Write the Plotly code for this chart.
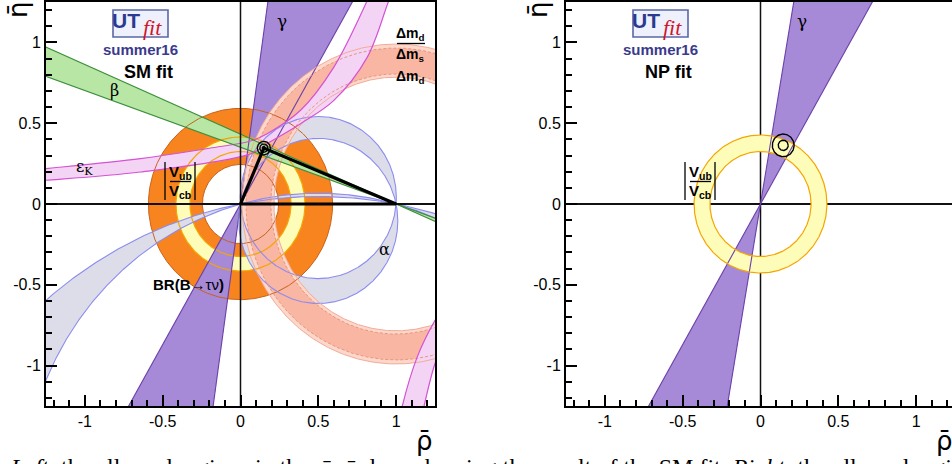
import numpy as np
import plotly.graph_objects as go

W, H = 952, 464

# ----------------- values -----------------
tick_vals = [-1, -0.5, 0, 0.5, 1]
tick_text = ["-1", "-0.5", "0", "0.5", "1"]

apex_sm = [0.150, 0.346]
apex_np = [0.146, 0.363]
sm_contour_r = [0.042, 0.026, 0.009]
np_contour_r = [0.032, 0.070]

gamma_sm_deg = [60.1, 82.0]
gamma_np_deg = [60.1, 80.3]
beta_deg = [19.35, 23.35]
br_taunu_r = [0.245, 0.592]
vub_vcb_r_sm = [0.325, 0.415]
vub_vcb_r_np = [0.325, 0.427]
dmd_r = [0.785, 0.990]          # Delta m_d band, circle around (1,0)
dmd_dms_r = [0.805, 0.965]      # Delta m_d / Delta m_s band
alpha_right_cy = [0.040, -0.105]   # circles through (0,0),(1,0): centre (0.5, cy)
alpha_left_cy = [-2.66, -1.835]

epsk_up_rho = [-1.30, -1.25, -0.643, -0.20, 0.064, 0.171, 0.386, 0.60, 0.815, 0.86]
epsk_up_eta = [0.214, 0.219, 0.281, 0.345, 0.390, 0.435, 0.580, 0.847, 1.26, 1.36]
epsk_lo_rho = [1.00, 0.954, 0.815, 0.60, 0.386, 0.171, 0.064, -0.643, -1.25, -1.30]
epsk_lo_eta = [1.36, 1.26, 0.909, 0.641, 0.497, 0.373, 0.310, 0.198, 0.147, 0.143]
epsk2_out_rho = [1.17, 1.18, 1.25, 1.27]
epsk2_out_eta = [-1.30, -1.25, -0.987, -0.94]
epsk2_in_rho = [1.27, 1.25, 1.136, 1.04, 1.03]
epsk2_in_eta = [-0.69, -0.72, -0.946, -1.25, -1.30]

caption = ("<i>Left</i>: the allowed regions in the ρ̄–η̄ plane showing the result of the SM fit. "
           "<i>Right</i>: the allowed regions in the ρ̄–η̄ plane showing the result of the NP fit.")

# ----------------- colours -----------------
C_GAM, C_GAM_L = "#a68ad8", "#6b3fa8"
C_BETA, C_BETA_L = "#b8e6a4", "#3d8f3d"
C_EPS, C_EPS_L = "#f4d4f4", "#d452d4"
C_ALP, C_ALP_L = "#dcdde8", "#8c8cf0"
C_DMD, C_DMD_L = "#fcd8ca", "#f4aa98"
C_DMS, C_DMS_L = "#f9b6a2", "#e99482"
C_BR, C_BR_L = "#f7841e", "#c8621c"
C_VUB, C_VUB_L = "#fefcb9", "#f5a500"

PXU = 389 / 2.5  # pixels per unit along rho
RIGHT_MAX = -1.25 + (952 - 566) / PXU

fig = go.Figure()


def circ(cx, cy, r, start=0.0, direction=1, n=721):
    t = start + direction * np.linspace(0, 2 * np.pi, n)
    return list(cx + r * np.cos(t)), list(cy + r * np.sin(t))


def fill(x, y, color, ax, spline=False):
    fig.add_trace(go.Scatter(x=x, y=y, fill="toself", fillcolor=color, mode="lines",
                             line=dict(width=0, color="rgba(0,0,0,0)",
                                       shape="spline" if spline else "linear"),
                             hoverinfo="skip", showlegend=False, xaxis=ax[0], yaxis=ax[1]))


def line(x, y, color, ax, width=1.0, dash="solid", spline=False):
    fig.add_trace(go.Scatter(x=x, y=y, mode="lines",
                             line=dict(width=width, color=color, dash=dash,
                                       shape="spline" if spline else "linear"),
                             hoverinfo="skip", showlegend=False, xaxis=ax[0], yaxis=ax[1]))


def ring_fill(cx, cy, r_in, r_out, color, ax):
    xo, yo = circ(cx, cy, r_out, 0, 1)
    xi, yi = circ(cx, cy, r_in, 0, -1)
    fill(xo + xi, yo + yi, color, ax)


def ring_lines(cx, cy, radii, color, ax, width=1.0, dash="solid"):
    for r in radii:
        x, y = circ(cx, cy, r)
        line(x, y, color, ax, width, dash)


def lune_fill(cys, color, ax):
    xs, ys = [], []
    for k, cy in enumerate(cys):
        r = np.hypot(0.5, cy)
        st = np.arctan2(-cy, -0.5)
        x, y = circ(0.5, cy, r, st, 1 if k == 0 else -1, n=1441)
        xs += x
        ys += y
    fill(xs, ys, color, ax)


def lune_lines(cys, color, ax):
    for cy in cys:
        r = np.hypot(0.5, cy)
        x, y = circ(0.5, cy, r, n=1441)
        line(x, y, color, ax, 1.1)


def wedge(px, py, angles_deg, R=4.0):
    a1, a2 = np.radians(angles_deg)
    x = [px, px + R * np.cos(a1), px + R * np.cos(a2), px, px - R * np.cos(a1), px - R * np.cos(a2), px]
    y = [py, py + R * np.sin(a1), py + R * np.sin(a2), py, py - R * np.sin(a1), py - R * np.sin(a2), py]
    return x, y


def wedge_lines(px, py, angles_deg, color, ax, R=4.0):
    for a in np.radians(angles_deg):
        line([px - R * np.cos(a), px + R * np.cos(a)], [py - R * np.sin(a), py + R * np.sin(a)], color, ax, 1.1)


A1 = ("x", "y")
A2 = ("x2", "y2")

# ================= LEFT PANEL (SM fit) =================
ring_fill(0, 0, br_taunu_r[0], br_taunu_r[1], C_BR, A1)
ring_fill(0, 0, vub_vcb_r_sm[0], vub_vcb_r_sm[1], C_VUB, A1)
gx, gy = wedge(0, 0, gamma_sm_deg)
fill(gx, gy, C_GAM, A1)
lune_fill(alpha_right_cy, C_ALP, A1)
lune_fill(alpha_left_cy, C_ALP, A1)
ring_fill(1, 0, dmd_r[0], dmd_r[1], C_DMD, A1)
ring_fill(1, 0, dmd_dms_r[0], dmd_dms_r[1], C_DMS, A1)
fill(epsk_up_rho + epsk_lo_rho, epsk_up_eta + epsk_lo_eta, C_EPS, A1, spline=True)
fill(epsk2_out_rho + epsk2_in_rho, epsk2_out_eta + epsk2_in_eta, C_EPS, A1, spline=True)
bang = [180 - b for b in beta_deg]
bx, by = wedge(1, 0, bang)
fill(bx, by, C_BETA, A1)

ring_lines(0, 0, br_taunu_r, C_BR_L, A1, 1.0)
ring_lines(0, 0, vub_vcb_r_sm, C_VUB_L, A1, 1.2)
wedge_lines(0, 0, gamma_sm_deg, C_GAM_L, A1)
lune_lines(alpha_right_cy, C_ALP_L, A1)
lune_lines(alpha_left_cy, C_ALP_L, A1)
ring_lines(1, 0, dmd_r, C_DMD_L, A1, 1.0)
ring_lines(1, 0, dmd_dms_r, C_DMS_L, A1, 1.0, dash="3px,2px")
line(epsk_up_rho, epsk_up_eta, C_EPS_L, A1, 1.2, spline=True)
line(epsk_lo_rho, epsk_lo_eta, C_EPS_L, A1, 1.2, spline=True)
line(epsk2_out_rho, epsk2_out_eta, C_EPS_L, A1, 1.2, spline=True)
line(epsk2_in_rho, epsk2_in_eta, C_EPS_L, A1, 1.2, spline=True)
wedge_lines(1, 0, bang, C_BETA_L, A1)

for ax, xmax in ((A1, 1.25), (A2, RIGHT_MAX)):
    line([-1.25, xmax], [0, 0], "#111111", ax, 1.8)
    line([0, 0], [-1.25, 1.25], "#111111", ax, 1.5)

line([0, apex_sm[0], 1, 0], [0, apex_sm[1], 0, 0], "black", A1, 3.2)
for r in sm_contour_r:
    x, y = circ(apex_sm[0], apex_sm[1], r, n=121)
    line(x, y, "black", A1, 1.3)

# ================= RIGHT PANEL (NP fit) =================
gx, gy = wedge(0, 0, gamma_np_deg)
fill(gx, gy, C_GAM, A2)
ring_fill(0, 0, vub_vcb_r_np[0], vub_vcb_r_np[1], C_VUB, A2)
wedge_lines(0, 0, gamma_np_deg, C_GAM_L, A2)
ring_lines(0, 0, vub_vcb_r_np, C_VUB_L, A2, 1.2)
for r in np_contour_r:
    x, y = circ(apex_np[0], apex_np[1], r, n=121)
    line(x, y, "black", A2, 1.4)

# ----------------- layout -----------------
tickfont = dict(family="Liberation Sans, Arial, sans-serif", size=16, color="black")


def xax(domain, rng, mirror):
    return dict(domain=domain, range=rng, tickmode="array", tickvals=tick_vals, ticktext=tick_text,
                ticks="inside", ticklen=11, tickwidth=2, tickcolor="black",
                minor=dict(ticks="inside", ticklen=6, tickwidth=1.5, tickcolor="black",
                           tickmode="linear", tick0=0, dtick=0.1),
                showline=True, linecolor="black", linewidth=2, mirror=mirror,
                showgrid=False, zeroline=False, tickfont=tickfont, fixedrange=True)


def yax(anchor, mirror):
    return dict(domain=[58 / H, 1 - 2 / H], range=[-1.25, 1.25], anchor=anchor, tickmode="array",
                tickvals=tick_vals, ticktext=tick_text,
                ticks="inside", ticklen=11, tickwidth=2, tickcolor="black",
                minor=dict(ticks="inside", ticklen=6, tickwidth=1.5, tickcolor="black",
                           tickmode="linear", tick0=0, dtick=0.1),
                showline=True, linecolor="black", linewidth=2, mirror=mirror,
                showgrid=False, zeroline=False, tickfont=tickfont, fixedrange=True)


def P(x, y):
    return x / W, 1 - y / H


annotations = []
shapes = []


def ann(x, y, text, size, color="black", family="Liberation Sans, Arial, sans-serif",
        angle=0, xanchor="center", yanchor="middle"):
    px, py = P(x, y)
    annotations.append(dict(x=px, y=py, xref="paper", yref="paper", text=text, showarrow=False,
                            font=dict(size=size, color=color, family=family), textangle=angle,
                            xanchor=xanchor, yanchor=yanchor))


def seg(x0, y0, x1, y1, color="black", width=1.2):
    a0, b0 = P(x0, y0)
    a1, b1 = P(x1, y1)
    shapes.append(dict(type="line", xref="paper", yref="paper", x0=a0, y0=b0, x1=a1, y1=b1,
                       line=dict(color=color, width=width)))


GREEK = "DejaVu Serif, Liberation Serif, serif"
for off, fit in ((0, "SM fit"), (520, "NP fit")):
    a0, b0 = P(113 + off, 10)
    a1, b1 = P(168 + off, 37)
    shapes.append(dict(type="rect", xref="paper", yref="paper", x0=a0, y0=b1, x1=a1, y1=b0,
                       fillcolor="#eef1fb", line=dict(color="#5a67a8", width=1.6)))
    ann(126 + off, 21, "<b>UT</b>", 21, "#2b3990")
    ann(152 + off, 27, "<i>fit</i>", 22, "#d0142a", family="Liberation Serif, serif")
    ann(140 + off, 49, "<b>summer16</b>", 15, "#3a3a8c")
    ann(148 + off, 72, "<b>%s</b>" % fit, 18)
    ann(282 + off, 21, "γ", 17, family=GREEK)
    seg(165 + off, 162, 165 + off, 200, width=1.3)
    seg(195 + off, 162, 195 + off, 200, width=1.3)
    seg(170 + off, 181.5, 191 + off, 181.5, width=1.3)
    ann(180 + off, 172, "<b>V<sub>ub</sub></b>", 15)
    ann(180 + off, 191, "<b>V<sub>cb</sub></b>", 15)
    ann(18 + off, 0, "η̄", 26, family="DejaVu Sans, sans-serif", angle=-90, yanchor="top")
    ann(435 + off, 441, "ρ̄", 26, family="DejaVu Sans, sans-serif", xanchor="right")

ann(114, 91, "β", 16, family=GREEK)
ann(84, 168, "ε<sub>K</sub>", 16, family=GREEK)
ann(384, 249, "α", 16, family=GREEK)
ann(410, 34, "<b>Δm<sub>d</sub></b>", 14)
seg(397, 43.5, 425, 43.5, width=1.3)
ann(410, 55, "<b>Δm<sub>s</sub></b>", 14)
ann(410, 77, "<b>Δm<sub>d</sub></b>", 14)
ann(188, 284, "<b>BR(B</b>→τν<b>)</b>", 15)

ann(8, 467, caption, 24, family="Liberation Serif, serif", xanchor="left", yanchor="middle")

fig.update_layout(
    width=W, height=H, margin=dict(l=0, r=0, t=0, b=0), autosize=False,
    paper_bgcolor="white", plot_bgcolor="white", showlegend=False,
    xaxis=xax([46 / W, 435 / W], [-1.25, 1.25], True),
    yaxis=yax("x", True),
    xaxis2=xax([566 / W, 1.0], [-1.25, RIGHT_MAX], True),
    yaxis2=yax("x2", False),
    annotations=annotations, shapes=shapes,
)
fig.update_layout(xaxis=dict(anchor="y"), xaxis2=dict(anchor="y2"))

fig.write_html("out.html", config={"displayModeBar": False})
